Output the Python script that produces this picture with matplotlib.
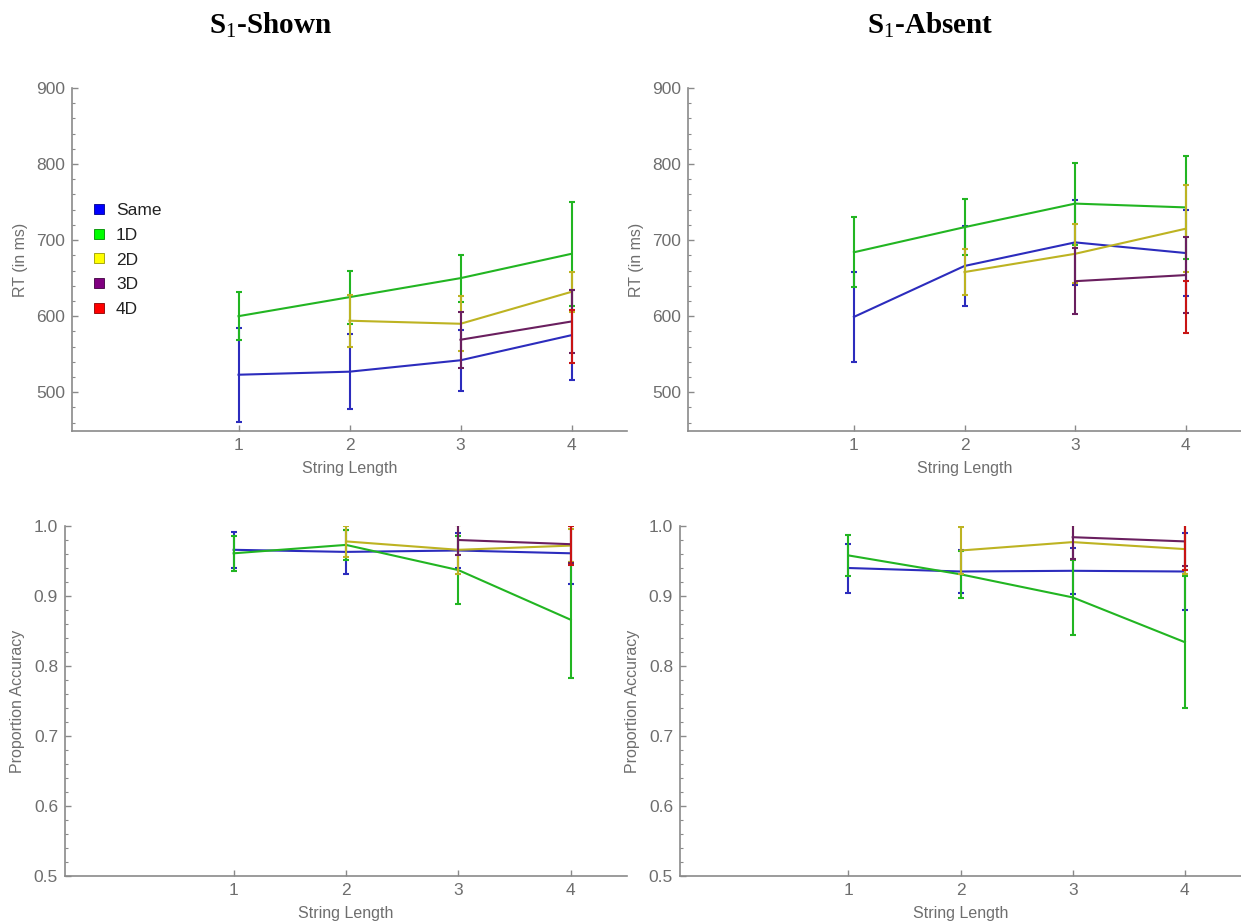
import matplotlib
matplotlib.use("Agg")
import matplotlib.pyplot as plt
from matplotlib.lines import Line2D
from matplotlib.ticker import MultipleLocator

plt.rcParams['font.family'] = ['Liberation Sans', 'DejaVu Sans']
plt.rcParams['mathtext.fontset'] = 'custom'
plt.rcParams['mathtext.rm'] = 'Liberation Serif'

# ---------------- data ----------------
conditions = ["Same", "1D", "2D", "3D", "4D"]
x_same = [1, 2, 3, 4]
x_1d = [1, 2, 3, 4]
x_2d = [2, 3, 4]
x_3d = [3, 4]
x_4d = [4]
xs = [x_same, x_1d, x_2d, x_3d, x_4d]

# RT, S1-Shown
rt_shown_same = [523, 527, 542, 575]
rt_shown_same_err = [62, 49, 40, 59]
rt_shown_1d = [600, 625, 650, 682]
rt_shown_1d_err = [32, 35, 31, 68]
rt_shown_2d = [594, 590, 632]
rt_shown_2d_err = [34, 36, 26]
rt_shown_3d = [569, 593]
rt_shown_3d_err = [37, 41]
rt_shown_4d = [573]
rt_shown_4d_err = [35]

# RT, S1-Absent
rt_absent_same = [599, 666, 697, 683]
rt_absent_same_err = [59, 53, 56, 57]
rt_absent_1d = [684, 717, 748, 743]
rt_absent_1d_err = [46, 37, 54, 68]
rt_absent_2d = [658, 682, 715]
rt_absent_2d_err = [30, 39, 57]
rt_absent_3d = [646, 654]
rt_absent_3d_err = [43, 50]
rt_absent_4d = [612]
rt_absent_4d_err = [34]

# Accuracy, S1-Shown
acc_shown_same = [0.966, 0.963, 0.965, 0.961]
acc_shown_same_err = [0.026, 0.031, 0.025, 0.044]
acc_shown_1d = [0.961, 0.973, 0.937, 0.866]
acc_shown_1d_err = [0.025, 0.021, 0.048, 0.083]
acc_shown_2d = [0.978, 0.966, 0.972]
acc_shown_2d_err = [0.022, 0.035, 0.024]
acc_shown_3d = [0.980, 0.974]
acc_shown_3d_err = [0.021, 0.027]
acc_shown_4d = [0.972]
acc_shown_4d_err = [0.028]

# Accuracy, S1-Absent
acc_absent_same = [0.940, 0.935, 0.936, 0.935]
acc_absent_same_err = [0.035, 0.031, 0.033, 0.055]
acc_absent_1d = [0.958, 0.931, 0.898, 0.834]
acc_absent_1d_err = [0.029, 0.034, 0.054, 0.094]
acc_absent_2d = [0.965, 0.977, 0.967]
acc_absent_2d_err = [0.033, 0.024, 0.036]
acc_absent_3d = [0.984, 0.978]
acc_absent_3d_err = [0.031, 0.035]
acc_absent_4d = [0.970]
acc_absent_4d_err = [0.033]

xticks = [1, 2, 3, 4]
rt_yticks = [500, 600, 700, 800, 900]
acc_yticks = [0.5, 0.6, 0.7, 0.8, 0.9, 1.0]

# ---------------- style ----------------
line_colors = ["#2c2cbd", "#22b522", "#bdb322", "#6a1f5f", "#c81414"]
legend_colors = ["#0000ff", "#00ff00", "#ffff00", "#800080", "#ff0000"]
legend_edges = ["#00008a", "#008a00", "#9a9a00", "#400040", "#8a0000"]
axis_gray = "#8a8a8a"
text_gray = "#6e6e6e"

fig = plt.figure(figsize=(12.41, 9.24), dpi=100)
W, H = 1241, 924


def add_axes(l, t, r, b):
    return fig.add_axes([l / W, 1 - b / H, (r - l) / W, (b - t) / H])


ax_tl = add_axes(72, 88, 627, 431)
ax_tr = add_axes(688, 88, 1241, 431)
ax_bl = add_axes(65, 526, 627, 876)
ax_br = add_axes(680, 526, 1241, 876)

panels = [
    (ax_tl, [rt_shown_same, rt_shown_1d, rt_shown_2d, rt_shown_3d, rt_shown_4d],
     [rt_shown_same_err, rt_shown_1d_err, rt_shown_2d_err, rt_shown_3d_err, rt_shown_4d_err], "rt"),
    (ax_tr, [rt_absent_same, rt_absent_1d, rt_absent_2d, rt_absent_3d, rt_absent_4d],
     [rt_absent_same_err, rt_absent_1d_err, rt_absent_2d_err, rt_absent_3d_err, rt_absent_4d_err], "rt"),
    (ax_bl, [acc_shown_same, acc_shown_1d, acc_shown_2d, acc_shown_3d, acc_shown_4d],
     [acc_shown_same_err, acc_shown_1d_err, acc_shown_2d_err, acc_shown_3d_err, acc_shown_4d_err], "acc"),
    (ax_br, [acc_absent_same, acc_absent_1d, acc_absent_2d, acc_absent_3d, acc_absent_4d],
     [acc_absent_same_err, acc_absent_1d_err, acc_absent_2d_err, acc_absent_3d_err, acc_absent_4d_err], "acc"),
]

for ax, means, errs, kind in panels:
    for i, (xv, m, e) in enumerate(zip(xs, means, errs)):
        ax.errorbar(xv, m, yerr=e, color=line_colors[i], ecolor=line_colors[i],
                    lw=1.5, elinewidth=1.5, capsize=2.5, capthick=1.5, zorder=3 + i)
    ax.set_xlim(-0.5, 4.5)
    ax.set_xticks(xticks)
    if kind == "rt":
        ax.set_ylim(449, 900)
        ax.set_yticks(rt_yticks)
        ax.yaxis.set_minor_locator(MultipleLocator(20))
        ax.set_ylabel("RT (in ms)", color=text_gray, fontsize=11.5, labelpad=6)
    else:
        ax.set_ylim(0.5, 1.0)
        ax.set_yticks(acc_yticks)
        ax.set_yticklabels([f"{v:.1f}" for v in acc_yticks])
        ax.yaxis.set_minor_locator(MultipleLocator(0.02))
        ax.set_ylabel("Proportion Accuracy", color=text_gray, fontsize=11.5, labelpad=6)
    ax.set_xlabel("String Length", color=text_gray, fontsize=11.5, labelpad=6)
    for s in ["top", "right"]:
        ax.spines[s].set_visible(False)
    for s in ["left", "bottom"]:
        ax.spines[s].set_color(axis_gray)
        ax.spines[s].set_linewidth(1.2)
    ax.tick_params(which="major", direction="in", length=4, width=1, color=axis_gray,
                   labelcolor=text_gray, labelsize=12.5, pad=5)
    ax.tick_params(which="minor", direction="in", length=2.5, width=0.8, color=axis_gray)
    ax.tick_params(axis="x", which="minor", bottom=False)
    ax.patch.set_alpha(0)

handles = [Line2D([], [], ls="none", marker="s", markersize=6.5,
                  markerfacecolor=legend_colors[i], markeredgecolor=legend_edges[i],
                  markeredgewidth=0.6, label=conditions[i]) for i in range(5)]
ax_tl.legend(handles=handles, loc="upper left", bbox_to_anchor=(0.02, 0.69), frameon=False,
             fontsize=12.5, handlelength=0.8, handletextpad=0.6, labelspacing=0.55,
             borderpad=0, labelcolor="#222222")

fig.text(270 / W, 1 - 25 / H, r"S$_\mathrm{1}$-Shown", ha="center", va="center",
         fontsize=21, fontweight="bold", family="Liberation Serif")
fig.text(930 / W, 1 - 25 / H, r"S$_\mathrm{1}$-Absent", ha="center", va="center",
         fontsize=21, fontweight="bold", family="Liberation Serif")

fig.savefig("out.png", dpi=100)
